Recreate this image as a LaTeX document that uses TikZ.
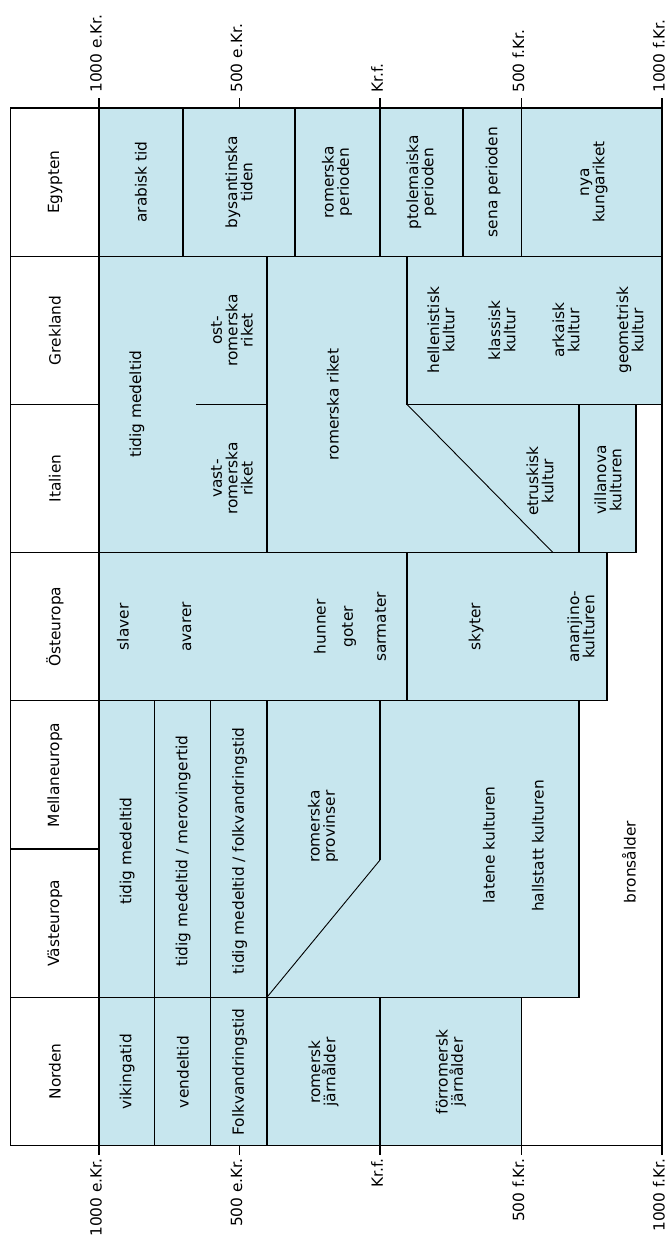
\documentclass[tikz,border=0pt]{standalone}
\usepackage{fontspec}
\setmainfont{DejaVu Sans}
\definecolor{cellblue}{RGB}{199,230,238}
\begin{document}
\begin{tikzpicture}[x=0.5pt,y=-0.5pt,
  frame/.style={draw=black,line width=0.65pt},
  thinline/.style={draw=black,line width=0.45pt},
  lbl/.style={rotate=90,align=center,inner sep=0pt,font=\fontsize{7.7}{7.7}\selectfont},
  ticklbl/.style={rotate=90,inner sep=0pt,font=\fontsize{7.7}{7.7}\selectfont}]
\useasboundingbox (0,0) rectangle (668,1237);
% ---------- fills ----------
\fill[cellblue] (99,108) rectangle (662,256.2);
\fill[cellblue] (99,256.2) -- (662,256.2) -- (662,404.4) -- (636,404.4) -- (636,552.6) -- (99,552.6) -- cycle;
\fill[cellblue] (99,552.6) rectangle (607,700.8);
\fill[cellblue] (99,700.8) rectangle (579,997.2);
\fill[cellblue] (99,997.2) rectangle (521.5,1145.4);
% ---------- frame and header column ----------
\draw[frame] (10.6,108) rectangle (662,1145.4);
\draw[frame] (99,108) -- (99,1145.4);
\foreach \y in {256.2,404.4,552.6,700.8,849,997.2}{\draw[frame] (10.6,\y) -- (99,\y);}
% ---------- Egypten ----------
\draw[frame] (99,256.2) -- (662,256.2);
\foreach \x in {183,295,380,463,521.5}{\draw[frame] (\x,108) -- (\x,256.2);}
% ---------- Grekland / Italien ----------
\draw[frame] (267,256.2) -- (267,552.6);
\draw[frame] (196,404.4) -- (267,404.4);
\draw[frame] (407,256.2) -- (407,404.4) -- (662,404.4);
\draw[thinline] (407,404.4) -- (553,552.6);
\draw[frame] (579,404.4) -- (579,552.6);
\draw[frame] (636,404.4) -- (636,552.6);
\draw[frame] (99,552.6) -- (636,552.6);
% ---------- Osteuropa ----------
\draw[frame] (407,552.6) -- (407,700.8);
\draw[frame] (607,552.6) -- (607,700.8) -- (99,700.8);
% ---------- Mellaneuropa / Vasteuropa ----------
\foreach \x in {154.5,210.5,267}{\draw[frame] (\x,700.8) -- (\x,1145.4);}
\draw[frame] (380,700.8) -- (380,860);
\draw[thinline] (380,860) -- (267,997.2);
\draw[frame] (579,700.8) -- (579,997.2) -- (99,997.2);
% ---------- Norden ----------
\draw[frame] (380,997.2) -- (380,1145.4);
\draw[frame] (521.5,997.2) -- (521.5,1145.4);
% ---------- ticks ----------
\foreach \x in {99,239.5,380,521.5,662}{
  \draw[frame] (\x,108) -- (\x,98);
  \draw[frame] (\x,1145.4) -- (\x,1155.4);
}
\node[ticklbl,anchor=west] (t1) at (96,93) {1000 e.Kr.};
\node[ticklbl,anchor=west] (t2) at (236.5,93) {500 e.Kr.};
\node[ticklbl,anchor=west] (t3) at (377,93) {Kr.f.};
\node[ticklbl,anchor=west] (t4) at (518.5,93) {500 f.Kr.};
\node[ticklbl,anchor=west] (t5) at (659,93) {1000 f.Kr.};
\node[ticklbl,anchor=east] (b1) at (96,1158) {1000 e.Kr.};
\node[ticklbl,anchor=east] (b2) at (236.5,1158) {500 e.Kr.};
\node[ticklbl,anchor=east] (b3) at (377,1158) {Kr.f.};
\node[ticklbl,anchor=east] (b4) at (518.5,1158) {500 f.Kr.};
\node[ticklbl,anchor=east] (b5) at (659,1158) {1000 f.Kr.};
% ---------- headers ----------
\node[lbl] (hEg) at (55,182.1) {Egypten};
\node[lbl] (hGr) at (55,330.3) {Grekland};
\node[lbl] (hIt) at (55,478.5) {Italien};
\node[lbl] (hOs) at (55,626.7) {Östeuropa};
\node[lbl] (hMe) at (55,774.9) {Mellaneuropa};
\node[lbl] (hVa) at (55,923.1) {Västeuropa};
\node[lbl] (hNo) at (55,1071.3) {Norden};
% ---------- Egypten texts ----------
\node[lbl] (eg1) at (141,182.1) {arabisk tid};
\node[lbl] (eg2) at (239,182.1) {bysantinska\\tiden};
\node[lbl] (eg3) at (337,182.1) {romerska\\perioden};
\node[lbl] (eg4) at (421.5,182.1) {ptolemaiska\\perioden};
\node[lbl] (eg5) at (493,182.1) {sena perioden};
\node[lbl] (eg6) at (594,182.1) {nya\\kungariket};
% ---------- Grekland / Italien texts ----------
\node[lbl] (gr1) at (137,404.4) {tidig medeltid};
\node[lbl] (gr2) at (232,330.3) {ost-\\romerska\\riket};
\node[lbl] (it1) at (232,478.5) {vast-\\romerska\\riket};
\node[lbl] (gr3) at (333,404.4) {romerska riket};
\node[lbl] (gr4) at (441,330.3) {hellenistisk\\kultur};
\node[lbl] (gr5) at (502,330.3) {klassisk\\kultur};
\node[lbl] (gr6) at (566,330.3) {arkaisk\\kultur};
\node[lbl] (gr7) at (630,330.3) {geometrisk\\kultur};
\node[lbl] (it2) at (540,481) {etruskisk\\kultur};
\node[lbl] (it3) at (608,480) {villanova\\kulturen};
% ---------- Osteuropa texts ----------
\node[lbl] (os1) at (123,626.7) {slaver};
\node[lbl] (os2) at (187,626.7) {avarer};
\node[lbl] (os3) at (320,626.7) {hunner};
\node[lbl] (os4) at (349,626.7) {goter};
\node[lbl] (os5) at (380.5,626.7) {sarmater};
\node[lbl] (os6) at (476,626.7) {skyter};
\node[lbl] (os7) at (581,626.7) {ananjino-\\kulturen};
% ---------- Mellaneuropa / Vasteuropa texts ----------
\node[lbl] (me1) at (127,851) {tidig medeltid};
\node[lbl] (me2) at (183,851) {tidig medeltid / merovingertid};
\node[lbl] (me3) at (239.5,851) {tidig medeltid / folkvandringstid};
\node[lbl] (me4) at (323,826.7) {romerska\\provinser};
\node[lbl] (me5) at (489,845) {latene kulturen};
\node[lbl] (me6) at (538,846) {hallstatt kulturen};
\node[lbl] (me7) at (629,862) {bronsålder};
% ---------- Norden texts ----------
\node[lbl] (no1) at (127,1072) {vikingatid};
\node[lbl] (no2) at (183,1072) {vendeltid};
\node[lbl] (no3) at (239.5,1072) {Folkvandringstid};
\node[lbl] (no4) at (323.5,1072) {romersk\\järnålder};
\node[lbl] (no5) at (451,1072) {förromersk\\järnålder};
\end{tikzpicture}
\end{document}
